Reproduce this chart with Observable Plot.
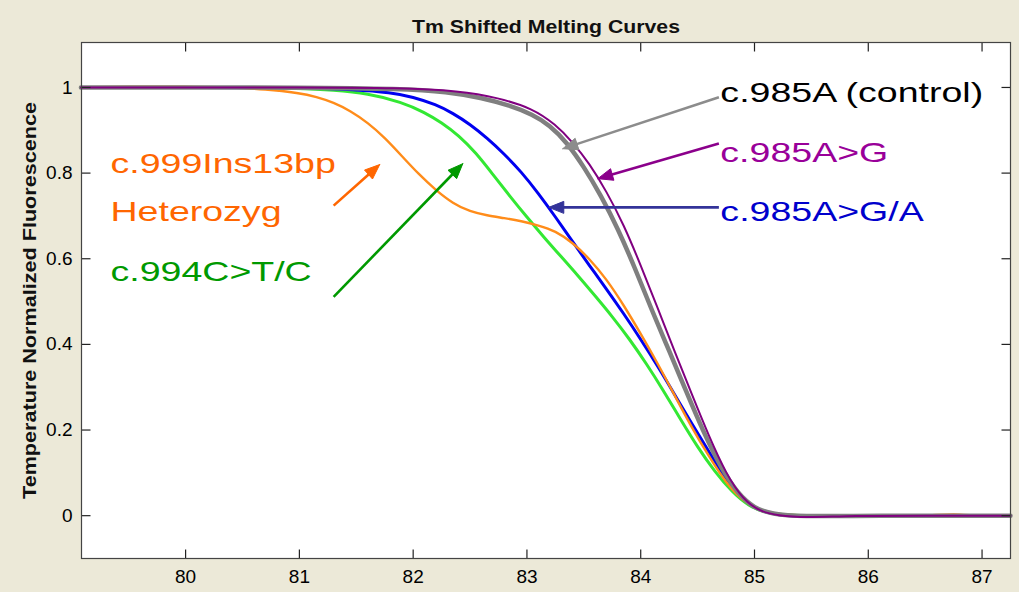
<!DOCTYPE html>
<html>
<head>
<meta charset="utf-8">
<script src="https://cdn.jsdelivr.net/npm/d3@7"></script>
<script src="https://cdn.jsdelivr.net/npm/@observablehq/plot@0.6"></script>
<style>
  html, body { margin: 0; padding: 0; background: #ECE9D8; }
  #chart { width: 1019px; height: 592px; }
</style>
</head>
<body>
<div id="chart"></div>
<script>
// ---------- data ----------
const title = "Tm Shifted Melting Curves";
const yLabel = "Temperature Normalized Fluorescence";
const xTicks = [80, 81, 82, 83, 84, 85, 86, 87];
const yTicks = [0, 0.2, 0.4, 0.6, 0.8, 1];
const xDomain = [79.085, 87.25];
const yDomain = [-0.1, 1.105];

// temperatures (°C) and normalized fluorescence
const orangeT = [79.08, 79.5, 80, 80.4, 80.7, 81.0, 81.15, 81.3, 81.45, 81.6, 81.75, 81.9, 82.05, 82.2, 82.35, 82.5, 82.65, 82.8, 82.95, 83.1, 83.25, 83.4, 83.55, 83.7, 83.85, 84.0, 84.15, 84.3, 84.45, 84.6, 84.75, 84.9, 85.05, 85.2, 85.4, 86.0, 86.6, 86.75, 86.9, 87.25];
const orangeV = [1.0, 1.002, 1.002, 1.0, 0.996, 0.987, 0.978, 0.965, 0.945, 0.918, 0.883, 0.840, 0.797, 0.760, 0.729, 0.710, 0.701, 0.695, 0.688, 0.678, 0.665, 0.638, 0.600, 0.552, 0.492, 0.425, 0.355, 0.280, 0.205, 0.138, 0.076, 0.034, 0.012, 0.003, 0.0, 0.0, 0.0, 0.004, 0.0, 0.0];

const greenT = [79.08, 80, 80.5, 81.0, 81.3, 81.6, 81.9, 82.1, 82.25, 82.4, 82.55, 82.7, 82.85, 83.0, 83.15, 83.3, 83.45, 83.6, 83.75, 83.9, 84.05, 84.2, 84.35, 84.5, 84.65, 84.8, 84.95, 85.1, 85.4, 86.0, 87.25];
const greenV = [1.0, 1.0, 1.0, 0.998, 0.994, 0.986, 0.966, 0.942, 0.918, 0.888, 0.848, 0.797, 0.746, 0.697, 0.650, 0.605, 0.560, 0.513, 0.465, 0.413, 0.355, 0.292, 0.225, 0.160, 0.103, 0.056, 0.022, 0.006, -0.002, 0.0, 0.0];

const blueT = [79.08, 80, 81.0, 81.5, 81.8, 82.0, 82.2, 82.35, 82.5, 82.65, 82.8, 82.95, 83.1, 83.25, 83.4, 83.55, 83.7, 83.85, 84.0, 84.15, 84.3, 84.45, 84.6, 84.75, 84.9, 85.05, 85.2, 85.4, 86.0, 87.25];
const blueV = [1.0, 1.0, 1.0, 0.995, 0.988, 0.978, 0.960, 0.940, 0.914, 0.882, 0.845, 0.803, 0.753, 0.698, 0.640, 0.584, 0.529, 0.472, 0.412, 0.349, 0.282, 0.214, 0.149, 0.084, 0.036, 0.011, 0.002, -0.003, 0.0, 0.0];

const grayT = [79.08, 80, 81.0, 81.9, 82.3, 82.6, 82.85, 83.05, 83.2, 83.35, 83.5, 83.65, 83.8, 83.95, 84.1, 84.25, 84.4, 84.55, 84.7, 84.85, 85.0, 85.15, 85.4, 86.0, 87.25];
const grayV = [1.0, 1.0, 1.0, 0.997, 0.990, 0.976, 0.958, 0.937, 0.912, 0.872, 0.815, 0.748, 0.670, 0.578, 0.478, 0.385, 0.290, 0.196, 0.114, 0.052, 0.017, 0.004, -0.002, 0.0, 0.0];

const purpleT = [79.08, 80, 81.0, 81.9, 82.4, 82.75, 83.05, 83.25, 83.4, 83.55, 83.7, 83.85, 84.0, 84.15, 84.3, 84.45, 84.6, 84.75, 84.9, 85.05, 85.2, 85.45, 85.85, 86.5, 87.25];
const purpleV = [1.0, 1.0, 1.0, 0.999, 0.992, 0.976, 0.951, 0.914, 0.873, 0.822, 0.757, 0.680, 0.585, 0.484, 0.382, 0.283, 0.185, 0.098, 0.037, 0.010, 0.0, -0.005, 0.0, 0.0, 0.0];

const seriesColors = ["#33E833", "#0000F0", "#FF8C1A", "#7F7F7F", "#800080"];
const seriesWidths = [3, 3, 2.4, 4.5, 2];

// annotation labels (data coords of the text's left-middle point)
const labelText = ["c.985A (control)", "c.985A>G", "c.985A>G/A", "c.999Ins13bp", "Heterozyg", "c.994C>T/C"];
const labelX = [84.70, 84.70, 84.70, 79.34, 79.34, 79.34];
const labelY = [0.986, 0.846, 0.708, 0.822, 0.708, 0.568];
const labelColor = ["#000000", "#990099", "#0000CC", "#FF6600", "#FF6600", "#009900"];

// annotation arrows (tail -> tip, in data coords)
const arrowX1 = [84.687, 84.687, 84.687, 81.301, 81.301];
const arrowY1 = [0.977, 0.869, 0.720, 0.724, 0.511];
const arrowX2 = [83.315, 83.623, 83.192, 81.706, 82.436];
const arrowY2 = [0.857, 0.787, 0.720, 0.820, 0.822];
const arrowColor = ["#8C8C8C", "#8B008B", "#333399", "#FF6600", "#009900"];

// ---------- build ----------
const W = 1019, H = 592;
const mL = 81, mR = 9, mT = 42, mB = 34;
const plotW = W - mL - mR, plotH = H - mT - mB, tickLen = 9;

// pixel-per-unit factors of the linear scales (for tick lengths and arrow heads)
const sx = plotW / (xDomain[1] - xDomain[0]);
const sy = plotH / (yDomain[1] - yDomain[0]);

const curves = [
  [greenT, greenV], [blueT, blueV], [orangeT, orangeV], [grayT, grayV], [purpleT, purpleV]
];

const lineMarks = curves.map(([T, V], i) =>
  Plot.line(T.map((t, j) => ({t, v: V[j]})), {
    x: "t", y: "v", stroke: seriesColors[i], strokeWidth: seriesWidths[i],
    curve: "basis", strokeLinejoin: "round", strokeLinecap: "round"
  })
);

const labels = labelText.map((text, i) => ({text, x: labelX[i], y: labelY[i], color: labelColor[i]}));
const arrows = arrowX1.map((x1, i) => ({x1, y1: arrowY1[i], x2: arrowX2[i], y2: arrowY2[i], color: arrowColor[i]}));

const headLen = 15, headHalf = 6;
const heads = [];
arrows.forEach((a, i) => {
  const dx = (a.x2 - a.x1) * sx, dy = (a.y2 - a.y1) * sy;
  const len = Math.hypot(dx, dy), ux = dx / len, uy = dy / len;
  const bx = -ux * headLen, by = -uy * headLen;
  const px = -uy * headHalf, py = ux * headHalf;
  const pts = [[0, 0], [bx + px, by + py], [bx - px, by - py], [0, 0]];
  pts.forEach(([ox, oy]) => heads.push({id: i, x: a.x2 + ox / sx, y: a.y2 + oy / sy, color: a.color}));
  a.sx2 = a.x2 - ux * (headLen - 2) / sx;
  a.sy2 = a.y2 - uy * (headLen - 2) / sy;
});

// MATLAB-style inward ticks on all four sides of the box
const tx = tickLen / sx, ty = tickLen / sy;
const tickSegs = [
  ...xTicks.map(t => ({x1: t, x2: t, y1: yDomain[0], y2: yDomain[0] + ty})),
  ...xTicks.map(t => ({x1: t, x2: t, y1: yDomain[1], y2: yDomain[1] - ty})),
  ...yTicks.map(v => ({x1: xDomain[0], x2: xDomain[0] + tx, y1: v, y2: v})),
  ...yTicks.map(v => ({x1: xDomain[1], x2: xDomain[1] - tx, y1: v, y2: v}))
];

const fmt = d => String(d);
const chart = Plot.plot({
  width: W, height: H,
  marginLeft: mL, marginRight: mR, marginTop: mT, marginBottom: mB,
  style: {background: "transparent", fontFamily: "'Liberation Sans', Arial, sans-serif", overflow: "visible"},
  x: {domain: xDomain, type: "linear"},
  y: {domain: yDomain, type: "linear"},
  marks: [
    Plot.frame({fill: "white", stroke: "none"}),
    ...lineMarks,
    Plot.link(arrows, {x1: "x1", y1: "y1", x2: "sx2", y2: "sy2", stroke: "color", strokeWidth: 2.6}),
    Plot.line(heads, {x: "x", y: "y", z: "id", fill: "color", stroke: "color", strokeWidth: 1, curve: "linear"}),
    Plot.text(labels, {x: "x", y: "y", text: "text", fill: "color", textAnchor: "start", fontSize: 28, lineAnchor: "middle"}),
    // tick labels
    Plot.axisX(xTicks, {anchor: "bottom", tickSize: 0, tickPadding: 11, fontSize: 19, color: "#000", label: null, tickFormat: fmt}),
    Plot.axisY(yTicks, {anchor: "left", tickSize: 0, tickPadding: 9, fontSize: 19, color: "#000", label: null, tickFormat: fmt}),
    Plot.link(tickSegs, {x1: "x1", y1: "y1", x2: "x2", y2: "y2", stroke: "#222", strokeWidth: 1.2}),
    Plot.frame({stroke: "#444", strokeWidth: 1.2}),
    Plot.text([title], {frameAnchor: "top", dy: -22, fontWeight: "bold", fontSize: 18, fill: "#111", textAnchor: "middle"}),
    Plot.text([yLabel], {frameAnchor: "left", dx: -51, rotate: -90, fontWeight: "bold", fontSize: 18, fill: "#111", textAnchor: "middle"})
  ]
});
document.getElementById("chart").append(chart);

// the reference's text is horizontally stretched; widen the glyphs to match
const stretch = new Map([...labelText.map(t => [t, 1.34]), [title, 1.18], [yLabel, 1.2]]);
chart.querySelectorAll("text").forEach(el => {
  const f = stretch.get(el.textContent);
  if (f) {
    const w = el.getComputedTextLength();
    el.setAttribute("textLength", (w * f).toFixed(1));
    el.setAttribute("lengthAdjust", "spacingAndGlyphs");
  }
});
</script>
</body>
</html>
